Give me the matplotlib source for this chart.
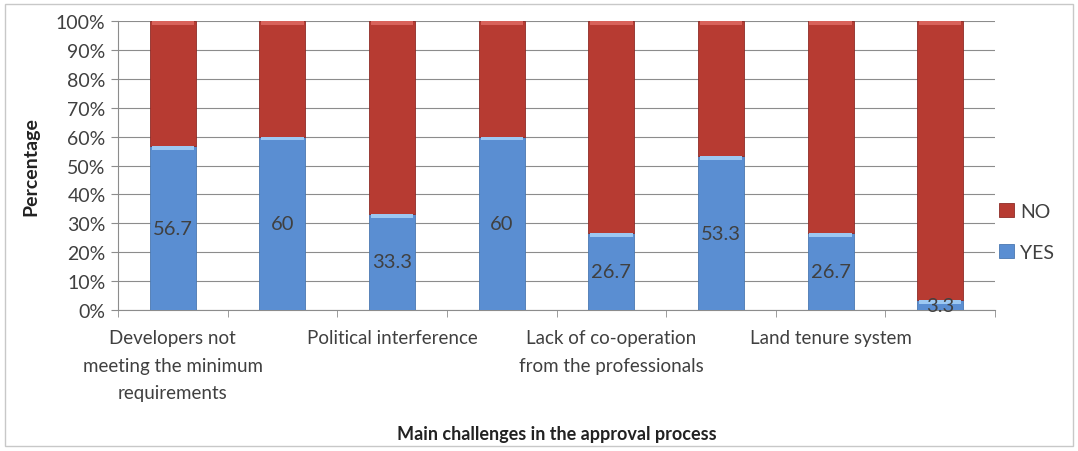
import matplotlib
matplotlib.use("Agg")
import matplotlib.pyplot as plt
from matplotlib.ticker import FixedLocator, PercentFormatter
import numpy as np

plt.rcParams['font.family'] = ['Lato', 'DejaVu Sans']

categories = [
    "Developers not\nmeeting the minimum\nrequirements",
    "",
    "Political interference",
    "",
    "Lack of co-operation\nfrom the professionals",
    "",
    "Land tenure system",
    "",
]
yes_values = [56.7, 60, 33.3, 60, 26.7, 53.3, 26.7, 3.3]
no_values = [round(100 - v, 1) for v in yes_values]

blue = "#5A8ED2"
blue_hi = "#9CC8F2"
red = "#B73B32"
red_hi = "#D8625A"
text_col = "#404040"

fig = plt.figure(figsize=(10.78, 4.52), dpi=100)
ax = fig.add_axes([0.1095, 0.312, 0.8135, 0.639])

x = np.arange(len(categories))
width = 0.42
yes_arr = np.array(yes_values)
no_arr = np.array(no_values)
ax.bar(x, yes_arr, width, color=blue, edgecolor="#4A78B0", linewidth=0.6,
       label="YES", zorder=3)
ax.bar(x, no_arr, width, bottom=yes_arr, color=red, edgecolor="#8E2C27",
       linewidth=0.6, label="NO", zorder=3)

# bevel-style highlight along the top of each segment
hi = 1.3
ax.bar(x, np.minimum(hi, yes_arr), width * 0.92, bottom=yes_arr - np.minimum(hi, yes_arr),
       color=blue_hi, linewidth=0, zorder=3.5)
ax.bar(x, hi, width * 0.92, bottom=yes_arr + no_arr - hi,
       color=red_hi, linewidth=0, zorder=3.5)

for xi, v in zip(x, yes_values):
    ax.text(xi, max(v / 2, -0.6), f"{v:g}", ha="center", va="center", fontsize=14.5,
            color=text_col, zorder=4, clip_on=False)

ax.set_xlim(-0.5, len(categories) - 0.5)
ax.set_ylim(0, 100)
ax.yaxis.set_major_locator(FixedLocator(np.arange(0, 101, 10)))
ax.yaxis.set_major_formatter(PercentFormatter(decimals=0))
ax.grid(axis="y", color="#8C8C8C", linewidth=0.8, zorder=0)

ax.set_xticks(x)
ax.set_xticklabels(categories, fontsize=13.5, color=text_col, linespacing=1.75)
ax.set_xticks(np.arange(-0.5, len(categories)), minor=True)
ax.tick_params(axis="x", which="major", length=0, pad=14)
ax.tick_params(axis="x", which="minor", length=5, color="#8C8C8C", direction="out")
ax.tick_params(axis="y", length=5, color="#8C8C8C", labelsize=14,
               labelcolor=text_col, pad=4)

for side in ("top", "right"):
    ax.spines[side].set_visible(False)
for side in ("left", "bottom"):
    ax.spines[side].set_color("#8C8C8C")
    ax.spines[side].set_linewidth(0.8)

ax.set_ylabel("Percentage", fontsize=14, fontweight="bold", color="#222222",
              labelpad=12)
ax.set_xlabel("Main challenges in the approval process", fontsize=13,
              fontweight="bold", color="#222222", labelpad=17)

handles, labels = ax.get_legend_handles_labels()
ax.legend(handles[::-1], labels[::-1], loc="center left",
          bbox_to_anchor=(0.985, 0.27), frameon=False, fontsize=14,
          handlelength=0.75, handleheight=0.75, handletextpad=0.3,
          labelspacing=1.25, labelcolor=text_col)

# light frame around the whole chart
fig.patches.append(plt.Rectangle((0.005, 0.01), 0.99, 0.98, transform=fig.transFigure,
                                 fill=False, edgecolor="#C8C8C8", linewidth=1))

fig.savefig("out.png", dpi=100, facecolor="white")
